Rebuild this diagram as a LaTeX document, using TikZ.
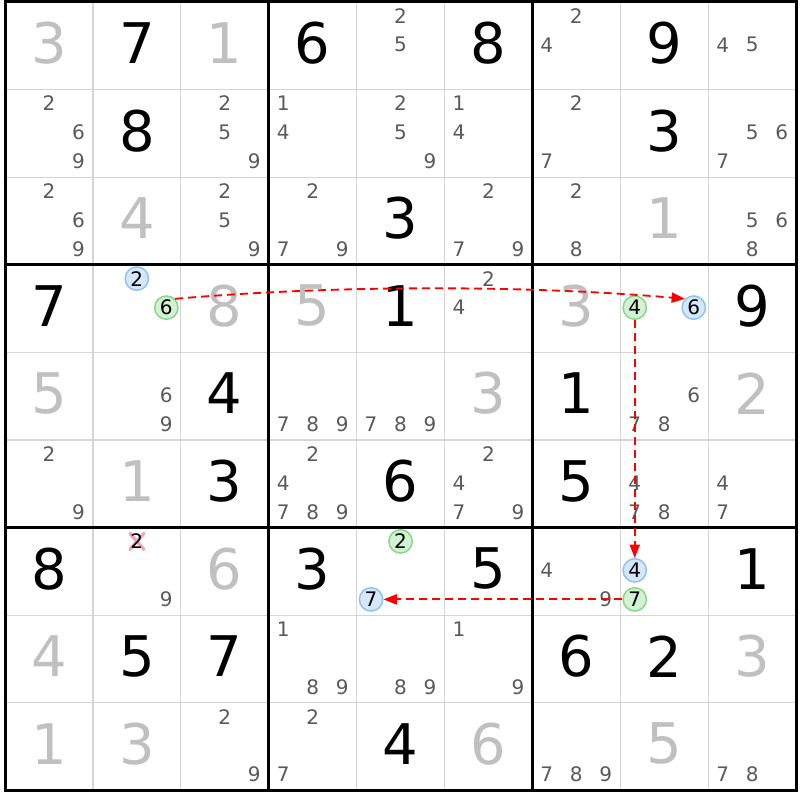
\documentclass[tikz,border=0pt]{standalone}
\usepackage{fontspec}
\setmainfont{DejaVu Sans}
\usetikzlibrary{arrows.meta}

\definecolor{solvedgray}{HTML}{C0C0C0}
\definecolor{candgray}{HTML}{5A5A5A}
\definecolor{thingrid}{HTML}{D4D4D4}
\definecolor{bluefill}{HTML}{D5E8FB}
\definecolor{blueline}{HTML}{8EC2F2}
\definecolor{greenfill}{HTML}{D3F1D3}
\definecolor{greenline}{HTML}{88D688}
\definecolor{strikepink}{HTML}{F4A3B4}
\definecolor{linkred}{HTML}{FF0000}

\tikzset{
  given/.style={font=\fontsize{42}{42}\selectfont, text=black, yshift=2pt, inner sep=0pt},
  solved/.style={given, text=solvedgray},
  cand/.style={font=\fontsize{15}{15}\selectfont, text=candgray, inner sep=1.2pt},
  bluecand/.style={cand, text=black, circle, minimum size=17.5pt, inner sep=0pt,
    fill=bluefill, draw=blueline, line width=1.1pt},
  greencand/.style={bluecand, fill=greenfill, draw=greenline},
  struck/.style={cand, text=black, fill=white, path picture={
    \draw[strikepink, line width=2.4pt]
      (path picture bounding box.north west) -- (path picture bounding box.south east)
      (path picture bounding box.north east) -- (path picture bounding box.south west);}},
  link/.style={linkred, line width=1.4pt, dash pattern=on 6pt off 3.75pt,
    -{Triangle[length=10pt,width=7.5pt]}},
}

% one candidate digit #4 in cell (#2,#3)
\newcommand{\cand}[4][cand]{%
  \pgfmathsetmacro\cdx{(mod(#4-1,3)-1)*29.5}%
  \pgfmathsetmacro\cdy{30-floor((#4-1)/3)*29}%
  \node[#1] (k#2#3#4) at ([shift={(\cdx,\cdy)}]c#2#3) {#4};}
\newcommand{\cands}[3]{\foreach \d in {#3}{\cand{#1}{#2}{\d}}}

\begin{document}
\begin{tikzpicture}[x=0.75pt, y=0.75pt]
\useasboundingbox[fill=white] (0,0) rectangle (800,800);

\foreach \r in {1,...,9}
  \foreach \c in {1,...,9}
    \coordinate (c\r\c) at ({5+(\c-0.5)*87.9},{798-(\r-0.5)*87.6});

% grid
\foreach \i in {1,2,4,5,7,8} {
  \draw[thingrid, line width=0.9pt] ({5+\i*87.9},9.6) -- ({5+\i*87.9},798);
  \draw[thingrid, line width=0.9pt] (5,{798-\i*87.6}) -- (796.1,{798-\i*87.6});
}
\foreach \i in {3,6} {
  \draw[line width=2.25pt] ({5+\i*87.9},9.6) -- ({5+\i*87.9},798);
  \draw[line width=2.25pt] (5,{798-\i*87.6}) -- (796.1,{798-\i*87.6});
}
\draw[line width=2.25pt] (5,9.6) rectangle (796.1,798);

% givens and solved cells
\foreach \r/\c/\v in {1/2/7, 1/4/6, 1/6/8, 1/8/9, 2/2/8, 2/8/3, 3/5/3,
    4/1/7, 4/5/1, 4/9/9, 5/3/4, 5/7/1, 6/3/3, 6/5/6, 6/7/5,
    7/1/8, 7/4/3, 7/6/5, 7/9/1, 8/2/5, 8/3/7, 8/7/6, 8/8/2, 9/5/4}
  \node[given] (v\r\c) at (c\r\c) {\v};
\foreach \r/\c/\v in {1/1/3, 1/3/1, 3/2/4, 3/8/1, 4/3/8, 4/4/5, 4/7/3,
    5/1/5, 5/6/3, 5/9/2, 6/2/1, 7/3/6, 8/1/4, 8/9/3,
    9/1/1, 9/2/3, 9/6/6, 9/8/5}
  \node[solved] (v\r\c) at (c\r\c) {\v};

% candidates
\cands{1}{5}{2,5} \cands{1}{7}{2,4} \cands{1}{9}{4,5}
\cands{2}{1}{2,6,9} \cands{2}{3}{2,5,9} \cands{2}{4}{1,4} \cands{2}{5}{2,5,9}
\cands{2}{6}{1,4} \cands{2}{7}{2,7} \cands{2}{9}{5,6,7}
\cands{3}{1}{2,6,9} \cands{3}{3}{2,5,9} \cands{3}{4}{2,7,9} \cands{3}{6}{2,7,9}
\cands{3}{7}{2,8} \cands{3}{9}{5,6,8}
\cands{4}{6}{2,4}
\cands{5}{2}{6,9} \cands{5}{4}{7,8,9} \cands{5}{5}{7,8,9} \cands{5}{8}{6,7,8}
\cands{6}{1}{2,9} \cands{6}{4}{2,4,7,8,9} \cands{6}{6}{2,4,7,9}
\cands{6}{8}{4,7,8} \cands{6}{9}{4,7}
\cands{7}{2}{9} \cands{7}{7}{4,9}
\cands{8}{4}{1,8,9} \cands{8}{5}{8,9} \cands{8}{6}{1,9}
\cands{9}{3}{2,9} \cands{9}{4}{2,7} \cands{9}{7}{7,8,9} \cands{9}{9}{7,8}

% highlighted candidates
\cand[bluecand]{4}{2}{2}
\cand[greencand]{4}{2}{6}
\cand[greencand]{4}{8}{4}
\cand[bluecand]{4}{8}{6}
\cand[greencand]{7}{5}{2}
\cand[bluecand]{7}{5}{7}
\cand[bluecand]{7}{8}{4}
\cand[greencand]{7}{8}{7}
\cand[struck]{7}{2}{2}

% links
\draw[link] (k426.north east) to[out=5, in=175, looseness=0.8] (k486.north west);
\draw[link] (k484) -- (k784);
\draw[link] (k787) -- (k757);

\end{tikzpicture}
\end{document}
